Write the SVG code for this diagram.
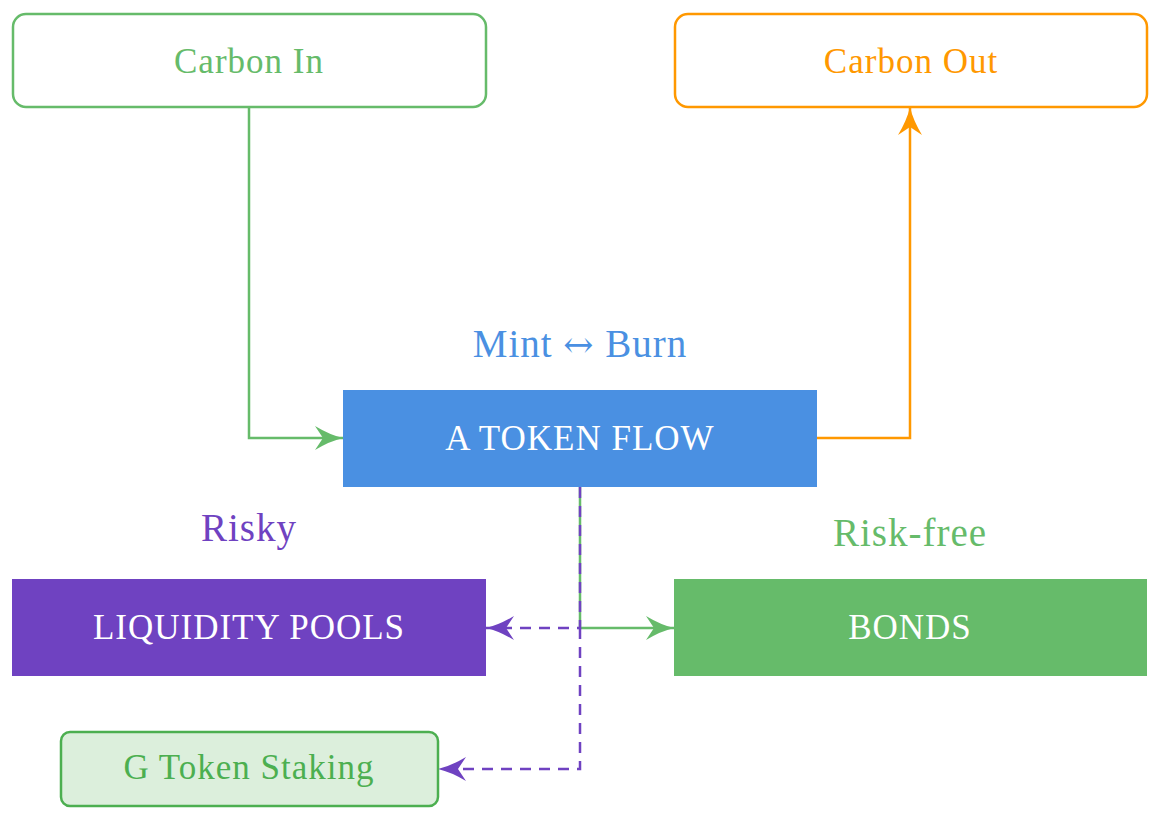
<svg xmlns="http://www.w3.org/2000/svg" width="1160" height="820" viewBox="0 0 1160 820">
  <defs>
    <style>
      text { font-family: "Liberation Serif", "Times New Roman", serif; text-anchor: middle; }
      .node { font-size: 35px; letter-spacing: 1px; }
      .lbl { font-size: 39px; letter-spacing: 1px; }
      .arr { font-family: "DejaVu Serif", serif; font-size: 36px; }
      .wire { fill: none; stroke-width: 2.5; }
      .dash { stroke-dasharray: 11 8; }
    </style>
    <marker id="aG" markerUnits="userSpaceOnUse" markerWidth="32" markerHeight="26" viewBox="0 0 32 26" refX="30" refY="13" orient="auto">
      <path d="M30,13 Q17,10 2,1 L10,13 L2,25 Q17,16 30,13 Z" fill="#66BB6A"/>
    </marker>
    <marker id="aO" markerUnits="userSpaceOnUse" markerWidth="32" markerHeight="26" viewBox="0 0 32 26" refX="30" refY="13" orient="auto">
      <path d="M30,13 Q17,10 2,1 L10,13 L2,25 Q17,16 30,13 Z" fill="#FF9800"/>
    </marker>
    <marker id="aP" markerUnits="userSpaceOnUse" markerWidth="32" markerHeight="26" viewBox="0 0 32 26" refX="30" refY="13" orient="auto">
      <path d="M30,13 Q17,10 2,1 L10,13 L2,25 Q17,16 30,13 Z" fill="#6F42C1"/>
    </marker>
  </defs>
  <rect width="1160" height="820" fill="#FFFFFF"/>

  <g id="connectors">
    <path class="wire" d="M249,107 L249,438 L343,438" stroke="#66BB6A" marker-end="url(#aG)"/>
    <path class="wire" d="M817,438 L910,438 L910,107" stroke="#FF9800" marker-end="url(#aO)"/>
    <path class="wire" d="M580,487 L580,628 L674,628" stroke="#66BB6A" marker-end="url(#aG)"/>
    <path class="wire dash" d="M580,487 L580,628 L486,628" stroke="#6F42C1" marker-end="url(#aP)"/>
    <path class="wire dash" d="M580,628 L580,769 L438,769" stroke="#6F42C1" marker-end="url(#aP)"/>
  </g>

  <g id="carbon-in">
    <rect x="13" y="14" width="473" height="93" rx="13" fill="#FFFFFF" stroke="#66BB6A" stroke-width="2.5"/>
    <text class="node" x="249" y="73" fill="#66BB6A">Carbon In</text>
  </g>
  <g id="carbon-out">
    <rect x="675" y="14" width="472" height="93" rx="13" fill="#FFFFFF" stroke="#FF9800" stroke-width="2.5"/>
    <text class="node" x="911" y="73" fill="#FF9800">Carbon Out</text>
  </g>
  <g id="mint-burn-label">
    <text class="lbl" x="580" y="357" fill="#4A90E2">Mint <tspan class="arr">↔</tspan> Burn</text>
  </g>
  <g id="a-token-flow">
    <rect x="343" y="390" width="474" height="97" fill="#4A90E2"/>
    <text class="node" x="580" y="450" fill="#FFFFFF">A TOKEN FLOW</text>
  </g>
  <g id="risky-label">
    <text class="lbl" x="249" y="541" fill="#6F42C1">Risky</text>
  </g>
  <g id="risk-free-label">
    <text class="lbl" x="910" y="546" fill="#66BB6A">Risk-free</text>
  </g>
  <g id="liquidity-pools">
    <rect x="12" y="579" width="474" height="97" fill="#6F42C1"/>
    <text class="node" x="249" y="639" fill="#FFFFFF">LIQUIDITY POOLS</text>
  </g>
  <g id="bonds">
    <rect x="674" y="579" width="473" height="97" fill="#66BB6A"/>
    <text class="node" x="910" y="639" fill="#FFFFFF">BONDS</text>
  </g>
  <g id="g-token-staking">
    <rect x="61" y="732" width="377" height="74" rx="9" fill="#DCEFDC" stroke="#4CAF50" stroke-width="2.5"/>
    <text class="node" x="249" y="779" fill="#4CAF50">G Token Staking</text>
  </g>
</svg>
